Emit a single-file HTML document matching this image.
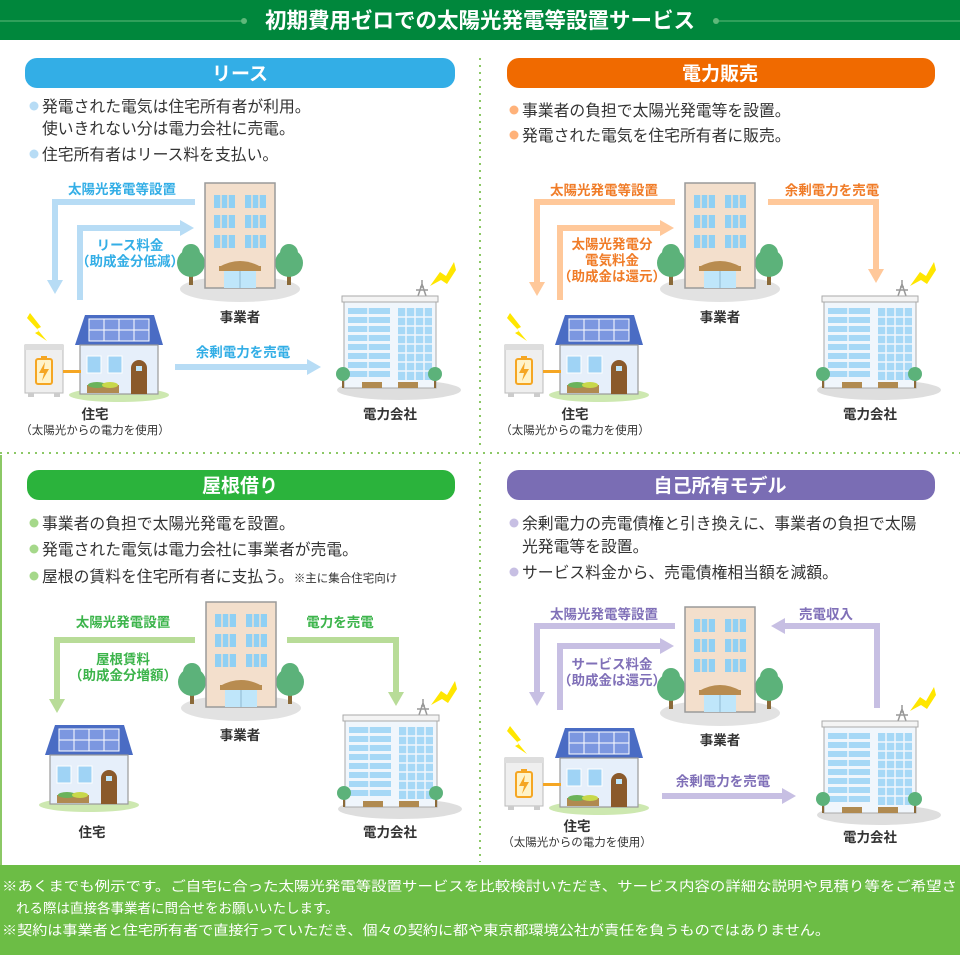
<!DOCTYPE html>
<html><head><meta charset="utf-8"><style>
html,body{margin:0;padding:0;background:#fff}
svg{display:block}
text{font-family:"Liberation Sans","Noto Sans CJK JP",sans-serif}
.b{font-size:15.8px;fill:#333}
.lbl{font-size:13.5px;font-weight:bold;text-anchor:middle}
.nm{font-size:13.5px;fill:#333;text-anchor:middle;font-weight:bold}
.sub{font-size:11.5px;fill:#333;text-anchor:middle}
.pt{font-size:19px;font-weight:bold;fill:#fff;text-anchor:middle}
.ft{font-size:13.5px;fill:#fff}
</style></head><body>
<svg width="960" height="955" viewBox="0 0 960 955" xmlns="http://www.w3.org/2000/svg">
<defs>
<g id="office">
<ellipse cx="35" cy="106" rx="60" ry="13" fill="#e2e2e2"/>
<rect x="-16" y="88" width="4" height="14" fill="#8a6a3a"/><circle cx="-14" cy="80" r="14" fill="#5cb27a"/><circle cx="-14" cy="70" r="9" fill="#5cb27a"/>
<rect x="82" y="88" width="4" height="14" fill="#8a6a3a"/><circle cx="84" cy="80" r="14" fill="#5cb27a"/><circle cx="84" cy="70" r="9" fill="#5cb27a"/>
<rect x="0" y="0" width="70" height="105" fill="#f3dfcc" stroke="#9a9a9a" stroke-width="1.5"/>
<g fill="#8fd0f4"><rect x="9" y="12" width="21" height="13"/><rect x="40" y="12" width="21" height="13"/><rect x="9" y="32" width="21" height="13"/><rect x="40" y="32" width="21" height="13"/><rect x="9" y="52" width="21" height="13"/><rect x="40" y="52" width="21" height="13"/></g>
<g stroke="#f3dfcc" stroke-width="1.5"><path d="M16 12v53M23 12v53M47 12v53M54 12v53"/></g>
<path d="M14 84 Q35 72 56 84 Z" fill="#b88c50"/><rect x="14" y="83" width="42" height="5" fill="#b88c50"/>
<rect x="19" y="88" width="32" height="17" fill="#bfe6fa"/><path d="M35 88v17" stroke="#8fb8d0"/>
</g>
<g id="house">
<ellipse cx="44" cy="80" rx="50" ry="7" fill="#cde8b0"/>
<polygon points="0,30 88,30 79,0 10,0" fill="#4a6cc4"/>
<rect x="14" y="4" width="60" height="22" fill="#7c97e0" stroke="#fff" stroke-width="1"/>
<path d="M14 15h60M29 4v22M44 4v22M59 4v22" stroke="#fff" stroke-width="1"/>
<rect x="5" y="30" width="78" height="49" fill="#e6effa" stroke="#999" stroke-width="1.2"/>
<rect x="12" y="41" width="14" height="17" fill="#9fd3f5" stroke="#fff"/><rect x="33" y="41" width="14" height="17" fill="#9fd3f5" stroke="#fff"/>
<path d="M56 79v-26a8 8 0 0 1 16 0v26z" fill="#8b5a2b"/><rect x="61" y="51" width="6" height="5" fill="#bfe6fa"/>
<rect x="12" y="70" width="32" height="8" fill="#b08a50"/><ellipse cx="22" cy="70" rx="9" ry="3" fill="#6bb35a"/><ellipse cx="35" cy="70" rx="8" ry="3" fill="#c8d84a"/>
</g>
<g id="batt">
<polygon points="5,-32 16,-18 12,-16 22,-4 10,-12 14,-14 2,-27" fill="#ffe600"/>
<rect x="0" y="0" width="38" height="48" fill="#efefef" stroke="#bbb"/><rect x="0" y="0" width="38" height="5" fill="#ddd"/>
<rect x="3" y="48" width="6" height="4" fill="#ccc"/><rect x="29" y="48" width="6" height="4" fill="#ccc"/>
<rect x="11" y="14" width="16" height="25" rx="2" fill="#fff3c8" stroke="#f5a623" stroke-width="2"/><rect x="16" y="11" width="6" height="3" fill="#f5a623"/>
<polygon points="20,17 14,28 19,28 17,36 24,24 19,24" fill="#f5a623"/>
<rect x="38" y="25" width="18" height="3" fill="#f5a623"/>
</g>
<g id="power">
<ellipse cx="57" cy="90" rx="62" ry="10" fill="#dedede"/>
<polygon points="112,-38 104,-24 98,-28 88,-14 99,-20 105,-16 114,-30" fill="#ffe600"/>
<path d="M76 -4 L80 -16 L84 -4 M74 -10h12 M78 -13h4 M80 -16v-4" stroke="#999" stroke-width="1.5" fill="none"/>
<rect x="0" y="-4" width="96" height="6" fill="#f4f4f4" stroke="#aaa"/>
<rect x="2" y="2" width="92" height="86" fill="#f0f6fc" stroke="#aaa"/>
<g fill="#a6d8f6"><rect x="6" y="8" width="42" height="6"/><rect x="6" y="17" width="42" height="6"/><rect x="6" y="26" width="42" height="6"/><rect x="6" y="35" width="42" height="6"/><rect x="6" y="44" width="42" height="6"/><rect x="6" y="53" width="42" height="6"/><rect x="6" y="62" width="42" height="6"/><rect x="6" y="71" width="42" height="6"/>
<rect x="56" y="8" width="34" height="72"/></g>
<path d="M26 8v70M64 8v72M73 8v72M82 8v72M56 17h34M56 26h34M56 35h34M56 44h34M56 53h34M56 62h34M56 71h34" stroke="#f0f6fc" stroke-width="1.5"/>
<rect x="0" y="78" width="2" height="10" fill="#8a6a3a"/><circle cx="1" cy="74" r="7" fill="#5cb27a"/>
<rect x="92" y="78" width="2" height="10" fill="#8a6a3a"/><circle cx="93" cy="74" r="7" fill="#5cb27a"/>
<rect x="20" y="82" width="20" height="6" fill="#b08a50"/><rect x="56" y="82" width="20" height="6" fill="#b08a50"/>
</g>
<marker id="mb" markerUnits="userSpaceOnUse" markerWidth="18" markerHeight="18" refX="3" refY="9" orient="auto"><path d="M0 1 L14 9 L0 17z" fill="#b7dcf5"/></marker>
<marker id="mo" markerUnits="userSpaceOnUse" markerWidth="18" markerHeight="18" refX="3" refY="9" orient="auto"><path d="M0 1 L14 9 L0 17z" fill="#ffc89a"/></marker>
<marker id="mg" markerUnits="userSpaceOnUse" markerWidth="18" markerHeight="18" refX="3" refY="9" orient="auto"><path d="M0 1 L14 9 L0 17z" fill="#b8dc98"/></marker>
<marker id="mp" markerUnits="userSpaceOnUse" markerWidth="18" markerHeight="18" refX="3" refY="9" orient="auto"><path d="M0 1 L14 9 L0 17z" fill="#c7bfe3"/></marker>
</defs>

<rect x="0" y="0" width="960" height="40" fill="#00873c"/>
<path d="M0 21H242M718 21H960" stroke="#5fb87a" stroke-width="1"/>
<circle cx="244" cy="21" r="3" fill="#5fb87a"/><circle cx="716" cy="21" r="3" fill="#5fb87a"/>
<text x="480" y="28" font-size="21.5" font-weight="bold" fill="#fff" text-anchor="middle">初期費用ゼロでの太陽光発電等設置サービス</text>

<path d="M480 58V448" stroke="#8cc866" stroke-width="2" stroke-dasharray="2 5"/>
<path d="M480 462V862" stroke="#8cc866" stroke-width="2" stroke-dasharray="2 5"/>
<path d="M0 453H960" stroke="#8cc866" stroke-width="2" stroke-dasharray="2 5"/>
<path d="M1 455V865" stroke="#8cc866" stroke-width="2"/>

<rect x="25" y="58" width="430" height="30" rx="12" fill="#33aee6"/><text class="pt" x="240" y="80">リース</text>
<rect x="507" y="58" width="428" height="30" rx="12" fill="#f06a00"/><text class="pt" x="720" y="80">電力販売</text>
<rect x="27" y="470" width="428" height="30" rx="12" fill="#2bb33c"/><text class="pt" x="240" y="492">屋根借り</text>
<rect x="507" y="470" width="428" height="30" rx="12" fill="#7a6db4"/><text class="pt" x="720" y="492">自己所有モデル</text>

<!-- Q1 -->
<circle cx="34" cy="106" r="4.5" fill="#b7dcf5"/><text class="b" x="42" y="112">発電された電気は住宅所有者が利用。</text>
<text class="b" x="42" y="134">使いきれない分は電力会社に売電。</text>
<circle cx="34" cy="154" r="4.5" fill="#b7dcf5"/><text class="b" x="42" y="160">住宅所有者はリース料を支払い。</text>
<g fill="none" stroke="#b7dcf5" stroke-width="6">
<polyline points="195,202 55,202 55,283" marker-end="url(#mb)"/>
<polyline points="80,300 80,228 183,228" marker-end="url(#mb)"/>
<polyline points="175,367 310,367" marker-end="url(#mb)"/>
</g>
<g fill="#33aee6"><text class="lbl" x="122" y="194">太陽光発電等設置</text><text class="lbl" x="130" y="250">リース料金</text><text class="lbl" x="130" y="266" font-size="11.5">（助成金分低減）</text><text class="lbl" x="243" y="357">余剰電力を売電</text></g>
<use href="#office" x="205" y="183"/>
<use href="#house" x="75" y="315"/>
<use href="#batt" x="25" y="345"/>
<use href="#power" x="342" y="300"/>
<text class="nm" x="240" y="322">事業者</text><text class="nm" x="95" y="419">住宅</text><text class="sub" x="95" y="434">（太陽光からの電力を使用）</text><text class="nm" x="390" y="419">電力会社</text>

<!-- Q2 -->
<circle cx="514" cy="110" r="4.5" fill="#ffb27a"/><text class="b" x="522" y="116">事業者の負担で太陽光発電等を設置。</text>
<circle cx="514" cy="135" r="4.5" fill="#ffb27a"/><text class="b" x="522" y="141">発電された電気を住宅所有者に販売。</text>
<g fill="none" stroke="#ffc89a" stroke-width="6">
<polyline points="675,202 537,202 537,285" marker-end="url(#mo)"/>
<polyline points="560,300 560,228 663,228" marker-end="url(#mo)"/>
<polyline points="768,202 876,202 876,272" marker-end="url(#mo)"/>
</g>
<g fill="#f07c28"><text class="lbl" x="604" y="195">太陽光発電等設置</text><text class="lbl" x="612" y="249">太陽光発電分</text><text class="lbl" x="612" y="265">電気料金</text><text class="lbl" x="612" y="281" font-size="11.5">（助成金は還元）</text><text class="lbl" x="832" y="195">余剰電力を売電</text></g>
<use href="#office" x="685" y="183"/>
<use href="#house" x="555" y="315"/>
<use href="#batt" x="505" y="345"/>
<use href="#power" x="822" y="300"/>
<text class="nm" x="720" y="322">事業者</text><text class="nm" x="575" y="419">住宅</text><text class="sub" x="575" y="434">（太陽光からの電力を使用）</text><text class="nm" x="870" y="419">電力会社</text>

<!-- Q3 -->
<circle cx="34" cy="523" r="4.5" fill="#a5d88a"/><text class="b" x="42" y="529">事業者の負担で太陽光発電を設置。</text>
<circle cx="34" cy="549" r="4.5" fill="#a5d88a"/><text class="b" x="42" y="555">発電された電気は電力会社に事業者が売電。</text>
<circle cx="34" cy="576" r="4.5" fill="#a5d88a"/><text class="b" x="42" y="582">屋根の賃料を住宅所有者に支払う。<tspan font-size="11.5">※主に集合住宅向け</tspan></text>
<g fill="none" stroke="#b8dc98" stroke-width="6">
<polyline points="195,640 57,640 57,702" marker-end="url(#mg)"/>
<polyline points="287,640 396,640 396,695" marker-end="url(#mg)"/>
</g>
<g fill="#3cb44b"><text class="lbl" x="123" y="627">太陽光発電設置</text><text class="lbl" x="123" y="664">屋根賃料</text><text class="lbl" x="123" y="680" font-size="11.5">（助成金分増額）</text><text class="lbl" x="340" y="627">電力を売電</text></g>
<use href="#office" x="206" y="602"/>
<use href="#house" x="45" y="725"/>
<use href="#power" x="343" y="719"/>
<text class="nm" x="240" y="740">事業者</text><text class="nm" x="92" y="837">住宅</text><text class="nm" x="390" y="837">電力会社</text>

<!-- Q4 -->
<circle cx="514" cy="523" r="4.5" fill="#c7bfe3"/><text class="b" x="522" y="529">余剰電力の売電債権と引き換えに、事業者の負担で太陽</text>
<text class="b" x="522" y="552">光発電等を設置。</text>
<circle cx="514" cy="572" r="4.5" fill="#c7bfe3"/><text class="b" x="522" y="578">サービス料金から、売電債権相当額を減額。</text>
<g fill="none" stroke="#c7bfe3" stroke-width="6">
<polyline points="675,626 537,626 537,695" marker-end="url(#mp)"/>
<polyline points="560,710 560,646 663,646" marker-end="url(#mp)"/>
<polyline points="877,708 877,626 782,626" marker-end="url(#mp)"/>
<polyline points="662,796 785,796" marker-end="url(#mp)"/>
</g>
<g fill="#8070b8"><text class="lbl" x="604" y="619">太陽光発電等設置</text><text class="lbl" x="612" y="669">サービス料金</text><text class="lbl" x="612" y="685" font-size="11.5">（助成金は還元）</text><text class="lbl" x="826" y="619">売電収入</text><text class="lbl" x="723" y="786">余剰電力を売電</text></g>
<use href="#office" x="685" y="607"/>
<use href="#house" x="555" y="728"/>
<use href="#batt" x="505" y="758"/>
<use href="#power" x="822" y="725"/>
<text class="nm" x="720" y="745">事業者</text><text class="nm" x="577" y="831">住宅</text><text class="sub" x="577" y="846">（太陽光からの電力を使用）</text><text class="nm" x="870" y="842">電力会社</text>

<rect x="0" y="865" width="960" height="90" fill="#6cbd45"/>
<text class="ft" x="2" y="891" textLength="955" lengthAdjust="spacingAndGlyphs">※あくまでも例示です。ご自宅に合った太陽光発電等設置サービスを比較検討いただき、サービス内容の詳細な説明や見積り等をご希望さ</text>
<text class="ft" x="16" y="913">れる際は直接各事業者に問合せをお願いいたします。</text>
<text class="ft" x="2" y="935" textLength="828" lengthAdjust="spacingAndGlyphs">※契約は事業者と住宅所有者で直接行っていただき、個々の契約に都や東京都環境公社が責任を負うものではありません。</text>
</svg>
</body></html>
